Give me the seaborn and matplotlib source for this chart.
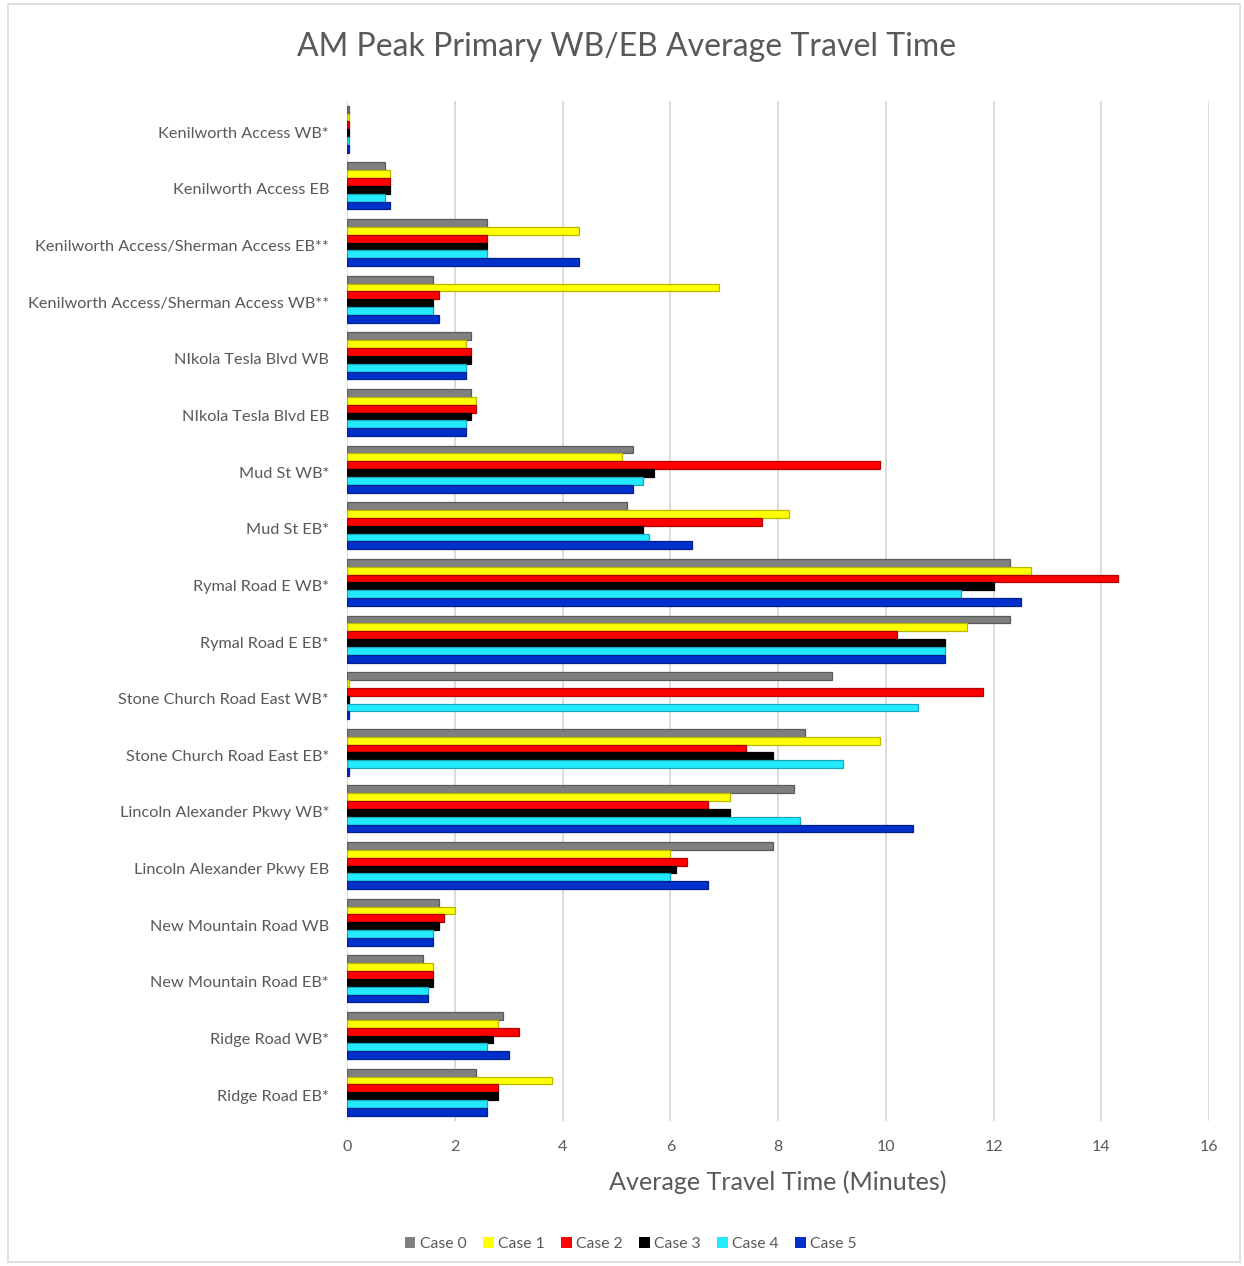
import matplotlib
matplotlib.use("Agg")
import matplotlib.pyplot as plt
import matplotlib.transforms as mtransforms
import seaborn as sns
import pandas as pd
from matplotlib.patches import Rectangle

categories = [
    "Kenilworth Access WB*",
    "Kenilworth Access EB",
    "Kenilworth Access/Sherman Access EB**",
    "Kenilworth Access/Sherman Access WB**",
    "NIkola Tesla Blvd WB",
    "NIkola Tesla Blvd EB",
    "Mud St WB*",
    "Mud St EB*",
    "Rymal Road E WB*",
    "Rymal Road E EB*",
    "Stone Church Road East WB*",
    "Stone Church Road East EB*",
    "Lincoln Alexander Pkwy WB*",
    "Lincoln Alexander Pkwy EB",
    "New Mountain Road WB",
    "New Mountain Road EB*",
    "Ridge Road WB*",
    "Ridge Road EB*",
]

case0 = [0.03, 0.7, 2.6, 1.6, 2.3, 2.3, 5.3, 5.2, 12.3, 12.3, 9.0, 8.5, 8.3, 7.9, 1.7, 1.4, 2.9, 2.4]
case1 = [0.03, 0.8, 4.3, 6.9, 2.2, 2.4, 5.1, 8.2, 12.7, 11.5, 0.03, 9.9, 7.1, 6.0, 2.0, 1.6, 2.8, 3.8]
case2 = [0.03, 0.8, 2.6, 1.7, 2.3, 2.4, 9.9, 7.7, 14.3, 10.2, 11.8, 7.4, 6.7, 6.3, 1.8, 1.6, 3.2, 2.8]
case3 = [0.03, 0.8, 2.6, 1.6, 2.3, 2.3, 5.7, 5.5, 12.0, 11.1, 0.03, 7.9, 7.1, 6.1, 1.7, 1.6, 2.7, 2.8]
case4 = [0.03, 0.7, 2.6, 1.6, 2.2, 2.2, 5.5, 5.6, 11.4, 11.1, 10.6, 9.2, 8.4, 6.0, 1.6, 1.5, 2.6, 2.6]
case5 = [0.03, 0.8, 4.3, 1.7, 2.2, 2.2, 5.3, 6.4, 12.5, 11.1, 0.03, 0.03, 10.5, 6.7, 1.6, 1.5, 3.0, 2.6]

case_names = ["Case 0", "Case 1", "Case 2", "Case 3", "Case 4", "Case 5"]
colors = ["#808080", "#FFFF00", "#FF0000", "#000000", "#22EAFF", "#0030CC"]
edge_colors = ["#5A5A5A", "#B8B800", "#B00000", "#000000", "#18A8BC", "#00208A"]

series = [case0, case1, case2, case3, case4, case5]
rows = []
for name, vals in zip(case_names, series):
    for cat, v in zip(categories, vals):
        rows.append({"Segment": cat, "Case": name, "Time": v})
df = pd.DataFrame(rows)

sns.set_theme(style="white")
plt.rcParams["font.family"] = ["Lato", "DejaVu Sans"]
text_color = "#595959"

fig = plt.figure(figsize=(12.44, 12.66), dpi=100)
bottom_px, top_px = 1120.5, 101.0
ax = fig.add_axes([0.279, 1 - bottom_px / 1266, 0.693, (bottom_px - top_px) / 1266])

sns.barplot(data=df, y="Segment", x="Time", hue="Case", order=categories,
            hue_order=case_names, palette=colors, orient="h", width=0.83,
            ax=ax, legend=False, saturation=1)

# darker bevel-like edges per series
for cont, ec in zip(ax.containers, edge_colors):
    for patch in cont:
        patch.set_edgecolor(ec)
        patch.set_linewidth(0.9)

ax.set_xlim(0, 16)
ax.set_xticks(range(0, 17, 2))
ax.grid(axis="x", color="#D9D9D9", linewidth=1.3)
ax.grid(axis="y", visible=False)
ax.set_axisbelow(True)
for s in ax.spines.values():
    s.set_visible(False)
ax.tick_params(axis="both", length=0, colors=text_color)
ax.tick_params(axis="y", labelsize=11.7, pad=13)
ax.tick_params(axis="x", labelsize=11.5, pad=14)
shift = mtransforms.ScaledTranslation(0, -3 / 100, fig.dpi_scale_trans)
for lab in ax.get_yticklabels():
    lab.set_color(text_color)
    lab.set_transform(lab.get_transform() + shift)
for lab in ax.get_xticklabels():
    lab.set_color(text_color)
ax.set_ylabel("")
ax.set_xlabel("Average Travel Time (Minutes)", fontsize=18.1, color=text_color, labelpad=12)

fig.suptitle("AM Peak Primary WB/EB Average Travel Time", x=0.504, y=0.975,
             fontsize=23, color=text_color)

handles = [Rectangle((0, 0), 1, 1, facecolor=c, edgecolor="none") for c in colors]
fig.legend(handles, case_names, loc="center", bbox_to_anchor=(0.507, 0.0175), ncol=6,
           frameon=False, fontsize=11.3, handlelength=0.7, handleheight=0.7,
           handletextpad=0.3, columnspacing=1.0, labelcolor=text_color)

# outer chart border
fig.patches.append(Rectangle((8 / 1244, 4 / 1266), (1240 - 8) / 1244, (1262 - 4) / 1266,
                             transform=fig.transFigure, fill=False,
                             edgecolor="#D9D9D9", linewidth=1.2))

fig.savefig("out.png", dpi=100, facecolor="white")
